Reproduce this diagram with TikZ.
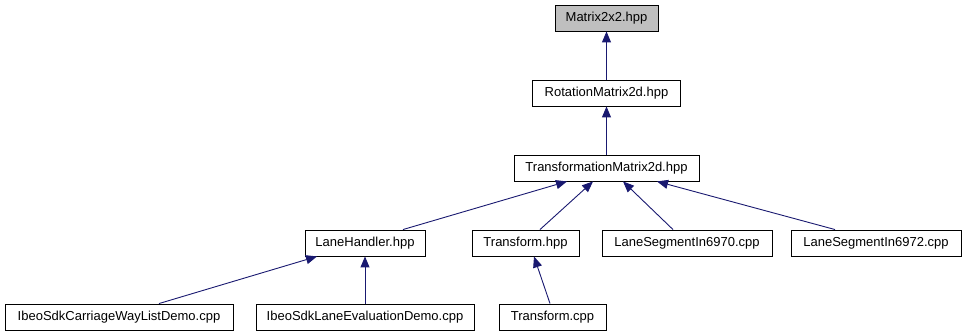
\documentclass[tikz,border=0pt]{standalone}
\usepackage{fontspec}
\setmainfont{Liberation Sans}
\usepackage{xcolor}
\usepackage{tikz}
\usetikzlibrary{arrows.meta}

\definecolor{edgeblue}{HTML}{191970}
\definecolor{rootgray}{HTML}{BFBFBF}

\begin{document}
\begin{tikzpicture}[x=1pt,y=-1pt, every node/.style={font=\fontsize{13}{15}\selectfont}, box/.style={draw,line width=0.9pt,inner sep=0pt,minimum height=26pt,fill=white}, dep/.style={draw=edgeblue,line width=0.9pt,-{Triangle[width=9pt,length=11pt]},edgeblue}]
\useasboundingbox (0,0) rectangle (967,336);
\node[box,fill=rootgray,minimum width=103pt] (mat) at (606.5,18) {Matrix2x2.hpp};
\node[box,minimum width=148pt] (rot) at (606.5,93) {RotationMatrix2d.hpp};
\node[box,minimum width=185pt] (trf) at (606.5,168) {TransformationMatrix2d.hpp};
\node[box,minimum width=120pt] (lh) at (365,243) {LaneHandler.hpp};
\node[box,minimum width=107pt] (tfh) at (525.5,243) {Transform.hpp};
\node[box,minimum width=170pt] (ls70) at (687,243) {LaneSegmentIn6970.cpp};
\node[box,minimum width=170pt] (ls72) at (876,243) {LaneSegmentIn6972.cpp};
\node[box,minimum width=228pt] (car) at (119,317) {IbeoSdkCarriageWayListDemo.cpp};
\node[box,minimum width=218pt] (eval) at (365,317) {IbeoSdkLaneEvaluationDemo.cpp};
\node[box,minimum width=107pt] (tfc) at (552.5,317) {Transform.cpp};
\draw[dep] (rot) -- (mat); \draw[dep] (trf) -- (rot);
\draw[dep] ([xshift=38pt]lh.north) -- ([xshift=-39.5pt]trf.south);
\draw[dep] ([xshift=14.5pt]tfh.north) -- ([xshift=-13.5pt]trf.south);
\draw[dep] ([xshift=-14pt]ls70.north) -- ([xshift=16.5pt]trf.south);
\draw[dep] ([xshift=-41pt]ls72.north) -- ([xshift=50.5pt]trf.south);
\draw[dep] ([xshift=40pt]car.north) -- ([xshift=-48pt]lh.south);
\draw[dep] (eval) -- (lh);
\draw[dep] ([xshift=-2.5pt]tfc.north) -- ([xshift=8.5pt]tfh.south);
\end{tikzpicture}
\end{document}
